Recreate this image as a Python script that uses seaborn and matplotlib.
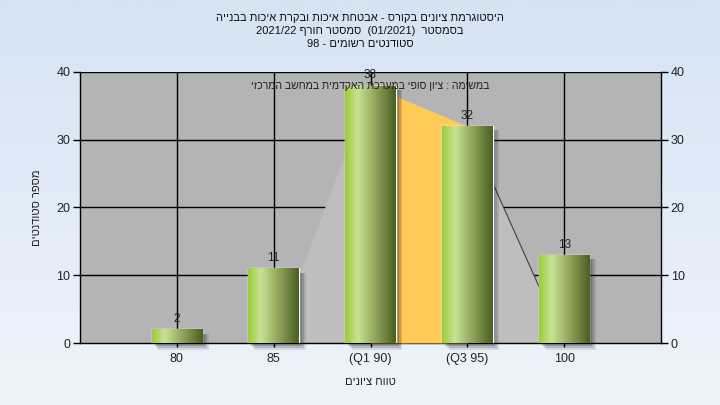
import re
import numpy as np
import pandas as pd
import matplotlib
matplotlib.use("Agg")
import matplotlib.pyplot as plt
from matplotlib.colors import LinearSegmentedColormap
from matplotlib.patches import Rectangle
import seaborn as sns

# ---------------- data ----------------
categories = ["80", "85", "(Q1 90)", "(Q3 95)", "100"]
counts = [2, 11, 38, 32, 13]
area_vals = [0, 0, 38, 32, 0]          # Q1-Q3 highlight area
title_lines = [
    "היסטוגרמת ציונים בקורס - אבטחת איכות ובקרת איכות בבנייה",
    "בסמסטר  (01/2021)  סמסטר חורף 2021/22",
    "סטודנטים רשומים - 98",
]
note_text = "במשימה : ציון סופי במערכת האקדמית במחשב המרכזי"
xlabel_text = "טווח ציונים"
ylabel_text = "מספר סטודנטים"
yticks = [0, 10, 20, 30, 40]


def vis(s):
    """Simple RTL visual ordering for matplotlib (no bidi support)."""
    r = s[::-1]
    r = re.sub(r"[0-9A-Za-z/.]+", lambda m: m.group(0)[::-1], r)
    r = r.replace("(", "\0").replace(")", "(").replace("\0", ")")
    return r


sns.set_theme(style="white")
FONT = ["Liberation Sans", "DejaVu Sans"]
plt.rcParams["font.family"] = FONT

fig = plt.figure(figsize=(7.2, 4.05), dpi=100)

# background gradient
bg = fig.add_axes([0, 0, 1, 1], zorder=-10)
grad = np.linspace(0, 1, 256).reshape(-1, 1)
bg_cmap = LinearSegmentedColormap.from_list("bg", ["#D5E3F3", "#EEF4FB"])
bg.imshow(grad, aspect="auto", cmap=bg_cmap, extent=(0, 1, 0, 1))
bg.axis("off")

ax = fig.add_axes([80 / 720, 62 / 405, 581 / 720, 271 / 405])
ax.set_facecolor("#B4B4B4")

df = pd.DataFrame({"cat": categories, "count": counts})
sns.barplot(data=df, x="cat", y="count", order=categories, width=0.52,
            color="#9BCB3A", saturation=1, ax=ax, zorder=5)

ax.set_xlim(-1, 5)
ax.set_ylim(0, 40)

# grid
for yv in yticks[1:]:
    ax.axhline(yv, color="black", lw=1, zorder=1)
for xv in range(len(categories)):
    ax.axvline(xv, color="black", lw=1, zorder=1)

# area polygon (Q1-Q3 highlight)
xs = np.arange(len(categories))
ax.fill_between(xs, 0, area_vals, color="#BEBEBE", zorder=2, lw=0)
ax.fill_between(xs[2:4], 0, area_vals[2:4], color="#FFCA58", zorder=3, lw=0)
ax.plot(xs[3:5], area_vals[3:5], color="#404040", lw=0.8, zorder=3)
ax.plot(xs[0:2], area_vals[0:2], color="#909090", lw=0.8, zorder=3)

# bar gradients and shadows
bar_cmap = LinearSegmentedColormap.from_list(
    "bar", [(0, "#9BCB3A"), (0.25, "#C7E394"), (0.55, "#98AE62"), (1, "#4A5E22")])
hgrad = np.linspace(0, 1, 256).reshape(1, -1)
for p, v in zip(ax.patches, counts):
    x0, w = p.get_x(), p.get_width()
    for dx, dy, a in [(0.07, -1.0, 0.10), (0.05, -0.7, 0.14), (0.03, -0.4, 0.18)]:
        ax.add_patch(Rectangle((x0 + dx, dy), w, v - dy - 0.6, color="black",
                               alpha=a, zorder=4, lw=0, clip_on=False))
    im = ax.imshow(hgrad, aspect="auto", cmap=bar_cmap,
                   extent=(x0, x0 + w, 0, v), zorder=6)
    im.set_clip_path(p)
    ax.text(x0 + w / 2, v + 0.6, str(v), ha="center", va="bottom",
            fontsize=8.5, color="#202020", zorder=8, family=FONT)

ax.set_xlim(-1, 5)
ax.set_ylim(0, 40)

ax.text(2, 37.9, vis(note_text), ha="center", va="center", fontsize=7.6,
        color="#202020", zorder=9, family=FONT)

# axes styling
for s in ["left", "bottom", "right", "top"]:
    ax.spines[s].set_visible(True)
    ax.spines[s].set_color("black")
    ax.spines[s].set_linewidth(1)
ax.spines["top"].set_visible(False)
ax.set_yticks(yticks)
ax.set_yticklabels([str(t) for t in yticks])
ax.tick_params(axis="y", which="both", left=True, right=True, labelleft=True,
               labelright=True, direction="out", length=5, width=1,
               color="black", labelsize=9, labelcolor="#222222", pad=2)
ax.tick_params(axis="x", bottom=True, direction="out", length=3, width=1,
               color="black", labelsize=9, labelcolor="#222222", pad=4)
ax.set_xlabel(vis(xlabel_text), fontsize=8, color="#202020", labelpad=9)
ax.set_ylabel(vis(ylabel_text), fontsize=8, color="#202020", labelpad=10)

# titles
for i, line in enumerate(title_lines):
    fig.text(0.5, 1 - (18 + 13 * i) / 405, vis(line), ha="center", va="center",
             fontsize=8, color="#101010", family=FONT)

fig.savefig("out.png", dpi=100)
